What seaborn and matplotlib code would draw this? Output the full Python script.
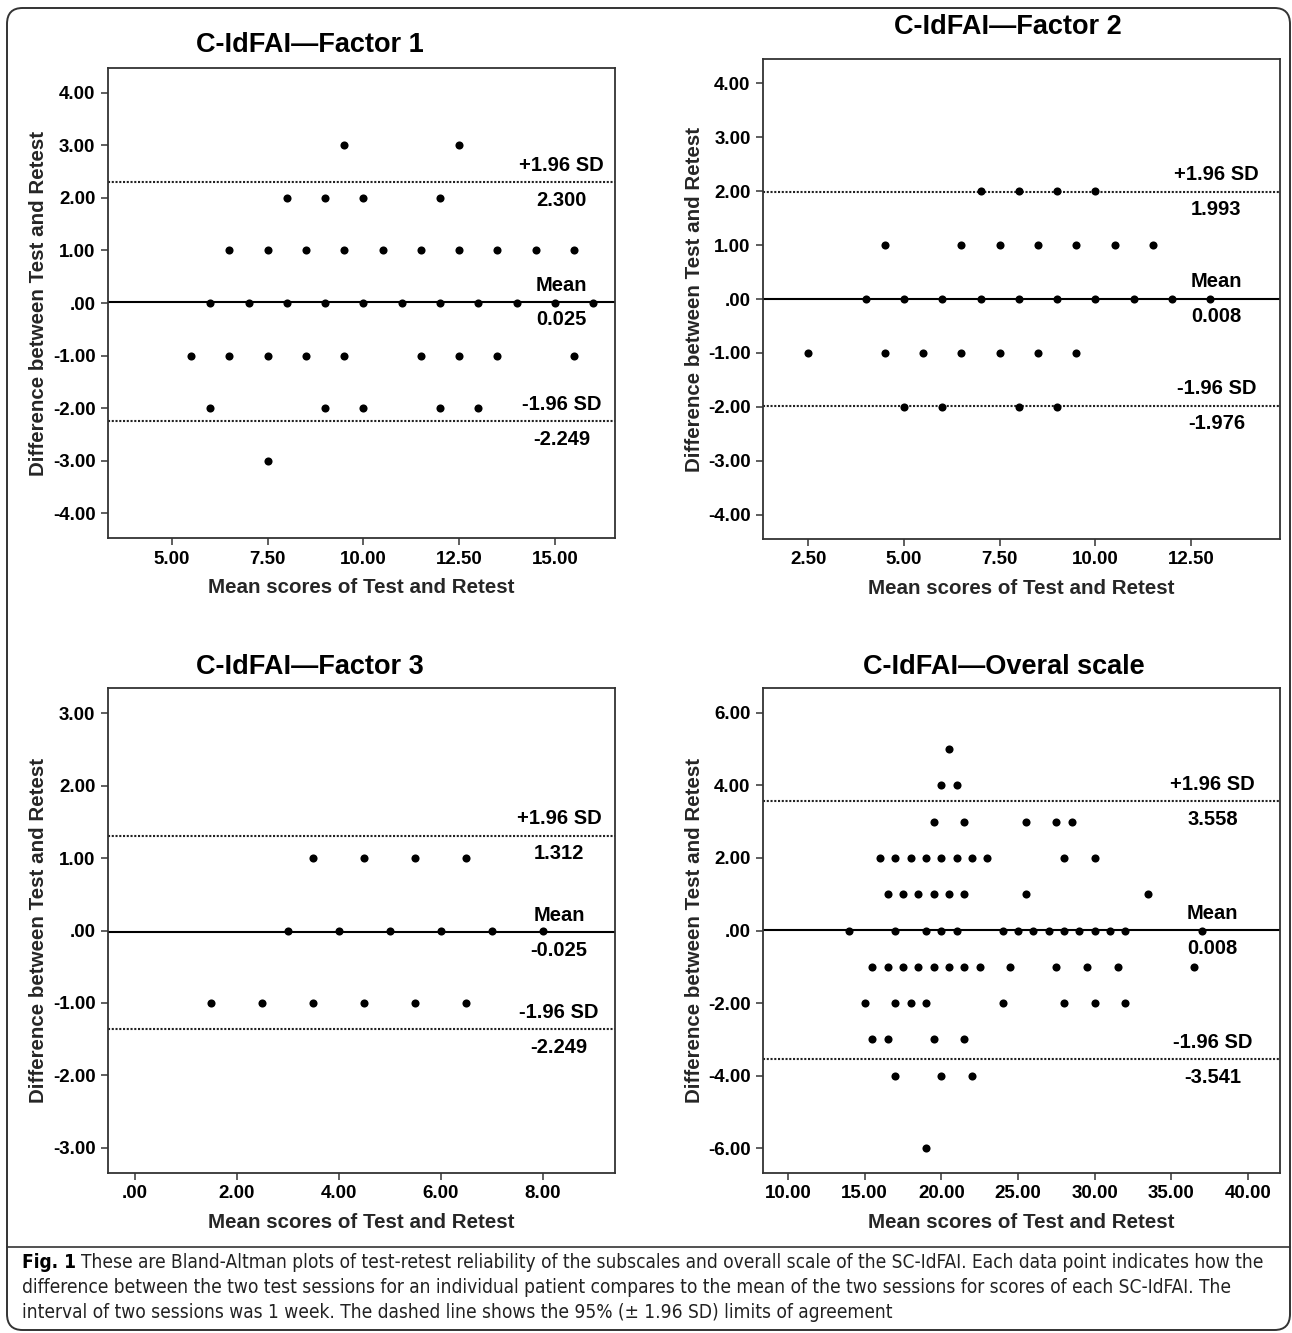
import numpy as np
import pandas as pd
import seaborn as sns
import matplotlib
matplotlib.use('Agg')
import matplotlib.pyplot as plt
from matplotlib import font_manager
from matplotlib.patches import FancyBboxPatch
from matplotlib.lines import Line2D

# ---- data ----
f1_mean = [9.5, 12.5,
           8, 9, 10, 12,
           6.5, 7.5, 8.5, 9.5, 10.5, 11.5, 12.5, 13.5, 14.5, 15.5,
           6, 7, 8, 9, 10, 11, 12, 13, 14, 15, 16,
           5.5, 6.5, 7.5, 8.5, 9.5, 11.5, 12.5, 13.5, 15.5,
           6, 9, 10, 12, 13,
           7.5]
f1_diff = [3, 3,
           2, 2, 2, 2,
           1, 1, 1, 1, 1, 1, 1, 1, 1, 1,
           0, 0, 0, 0, 0, 0, 0, 0, 0, 0, 0,
           -1, -1, -1, -1, -1, -1, -1, -1, -1,
           -2, -2, -2, -2, -2,
           -3]
f1_limits = [2.300, 0.025, -2.249]
f1_labels = ['2.300', '0.025', '-2.249']

f2_mean = [7, 8, 9, 10,
           4.5, 6.5, 7.5, 8.5, 9.5, 10.5, 11.5,
           4, 5, 6, 7, 8, 9, 10, 11, 12, 13,
           2.5, 4.5, 5.5, 6.5, 7.5, 8.5, 9.5,
           5, 6, 8, 9]
f2_diff = [2, 2, 2, 2,
           1, 1, 1, 1, 1, 1, 1,
           0, 0, 0, 0, 0, 0, 0, 0, 0, 0,
           -1, -1, -1, -1, -1, -1, -1,
           -2, -2, -2, -2]
f2_limits = [1.993, 0.008, -1.976]
f2_labels = ['1.993', '0.008', '-1.976']

f3_mean = [3.5, 4.5, 5.5, 6.5,
           3, 4, 5, 6, 7, 8,
           1.5, 2.5, 3.5, 4.5, 5.5, 6.5]
f3_diff = [1, 1, 1, 1,
           0, 0, 0, 0, 0, 0,
           -1, -1, -1, -1, -1, -1]
f3_limits = [1.312, -0.025, -1.362]
f3_labels = ['1.312', '-0.025', '-2.249']

f4_mean = [20.5,
           20, 21,
           19.5, 21.5, 25.5, 27.5, 28.5,
           16, 17, 18, 19, 20, 21, 22, 23, 28, 30,
           16.5, 17.5, 18.5, 19.5, 20.5, 21.5, 25.5, 33.5,
           14, 17, 19, 20, 21, 24, 25, 26, 27, 28, 29, 30, 31, 32, 37,
           15.5, 16.5, 17.5, 18.5, 19.5, 20.5, 21.5, 22.5, 24.5, 27.5, 29.5, 31.5, 36.5,
           15, 17, 18, 19, 24, 28, 30, 32,
           15.5, 16.5, 19.5, 21.5,
           17, 20, 22,
           19]
f4_diff = [5,
           4, 4,
           3, 3, 3, 3, 3,
           2, 2, 2, 2, 2, 2, 2, 2, 2, 2,
           1, 1, 1, 1, 1, 1, 1, 1,
           0, 0, 0, 0, 0, 0, 0, 0, 0, 0, 0, 0, 0, 0, 0,
           -1, -1, -1, -1, -1, -1, -1, -1, -1, -1, -1, -1, -1,
           -2, -2, -2, -2, -2, -2, -2, -2,
           -3, -3, -3, -3,
           -4, -4, -4,
           -6]
f4_limits = [3.558, 0.008, -3.541]
f4_labels = ['3.558', '0.008', '-3.541']

titles = ['C-IdFAI\u2014Factor 1', 'C-IdFAI\u2014Factor 2',
          'C-IdFAI\u2014Factor 3', 'C-IdFAI\u2014Overal scale']
xlabel = 'Mean scores of Test and Retest'
ylabel = 'Difference between Test and Retest'
caption = ['These are Bland-Altman plots of test-retest reliability of the subscales and overall scale of the SC-IdFAI. Each data point indicates how the',
           'difference between the two test sessions for an individual patient compares to the mean of the two sessions for scores of each SC-IdFAI. The',
           'interval of two sessions was 1 week. The dashed line shows the 95% (\u00b1 1.96 SD) limits of agreement']

# ---- layout ----
W, H = 1292, 1333
sns.set_style('ticks')
plt.rcParams['font.family'] = ['Liberation Sans', 'DejaVu Sans']
plt.rcParams['font.weight'] = 'bold'
DARK = '#222222'

fig = plt.figure(figsize=(W / 100, H / 100), dpi=100)


def px_axes(left, top, right, bottom):
    return fig.add_axes([left / W, 1 - bottom / H, (right - left) / W, (bottom - top) / H])


def fmt(v):
    s = f'{v:.2f}'
    return '.00' if s in ('0.00', '-0.00') else s


def draw_panel(ax, mean, diff, limits, labels, xlim, ylim, xticks, yticks, text_x):
    df = pd.DataFrame({'mean': mean, 'diff': diff})
    sns.scatterplot(data=df, x='mean', y='diff', ax=ax, color='black', s=34,
                    linewidth=0, zorder=3)
    up, mid, lo = limits
    ax.axhline(mid, color='black', lw=1.5, zorder=2)
    ax.axhline(up, color=DARK, lw=1.5, ls=(0, (1, 0.8)), zorder=2)
    ax.axhline(lo, color=DARK, lw=1.5, ls=(0, (1, 0.8)), zorder=2)
    for y, txt_above, txt_below in [(up, '+1.96 SD', labels[0]),
                                   (mid, 'Mean', labels[1]),
                                   (lo, '-1.96 SD', labels[2])]:
        for txt, dy in [(txt_above, 12), (txt_below, -13)]:
            ax.annotate(txt, xy=(text_x, y), xycoords=('axes fraction', 'data'),
                        xytext=(0, dy), textcoords='offset points',
                        ha='center', va='center', fontsize=14.5, fontweight='bold',
                        color='black')
    ax.set_xlim(*xlim)
    ax.set_ylim(*ylim)
    ax.set_xticks(xticks)
    ax.set_yticks(yticks)
    ax.set_xticklabels([fmt(v) for v in xticks])
    ax.set_yticklabels([fmt(v) for v in yticks])
    ax.tick_params(direction='out', length=5, width=1.1, color='#333333',
                   labelsize=13.5, labelcolor='black', top=False, right=False, pad=4)
    for sp in ax.spines.values():
        sp.set_color('#333333')
        sp.set_linewidth(1.3)
    ax.set_xlabel(xlabel, fontsize=14.8, fontweight='bold')
    ax.set_ylabel(ylabel, fontsize=14.8, fontweight='bold')
    ax.grid(False)


ax1 = px_axes(108, 68, 615, 538)
ax2 = px_axes(763, 59, 1280, 539)
ax3 = px_axes(108, 688, 615, 1173)
ax4 = px_axes(763, 688, 1280, 1173)

draw_panel(ax1, f1_mean, f1_diff, f1_limits, f1_labels, (3.33, 16.57), (-4.47, 4.47),
           [5, 7.5, 10, 12.5, 15], [-4, -3, -2, -1, 0, 1, 2, 3, 4], 0.895)
draw_panel(ax2, f2_mean, f2_diff, f2_limits, f2_labels, (1.32, 14.82), (-4.45, 4.45),
           [2.5, 5, 7.5, 10, 12.5], [-4, -3, -2, -1, 0, 1, 2, 3, 4], 0.877)
draw_panel(ax3, f3_mean, f3_diff, f3_limits, f3_labels, (-0.52, 9.42), (-3.35, 3.35),
           [0, 2, 4, 6, 8], [-3, -2, -1, 0, 1, 2, 3], 0.89)
draw_panel(ax4, f4_mean, f4_diff, f4_limits, f4_labels, (8.37, 42.1), (-6.68, 6.68),
           [10, 15, 20, 25, 30, 35, 40], [-6, -4, -2, 0, 2, 4, 6], 0.87)

for ax, lx in [(ax1, -0.118), (ax3, -0.118), (ax2, -0.114), (ax4, -0.114)]:
    ax.yaxis.set_label_coords(lx, 0.5)
for ax in [ax1, ax2, ax3, ax4]:
    ax.xaxis.set_label_coords(0.5, -40 / (ax.get_position().height * H))

for (tx, ty), t in zip([(310, 45), (1008, 27), (310, 667), (1004, 667)], titles):
    fig.text(tx / W, 1 - ty / H, t, ha='center', va='center', fontsize=19.5,
             fontweight='bold', color='black')

# ---- frame and caption ----
fig.patches.append(FancyBboxPatch((7 / W, 1 - 1330 / H), 1283 / W, 1322 / H,
                                  boxstyle='round,pad=0,rounding_size=0.012',
                                  transform=fig.transFigure, fill=False,
                                  edgecolor='#333333', lw=1.4))
fig.lines.append(Line2D([7 / W, 1290 / W], [1 - 1247 / H, 1 - 1247 / H],
                        transform=fig.transFigure, color='#333333', lw=1.2))

# caption font: prefer a condensed/narrow face when one is installed
cap_font, cap_stretch = 'Roboto', 'normal'
for f in font_manager.fontManager.ttflist:
    if 'Narrow' in f.name or 'Condensed' in f.name:
        cap_font, cap_stretch = f.name, 'normal'
        break
    if f.stretch in ('condensed', 'semi-condensed') and f.name in ('DejaVu Sans', 'Liberation Sans'):
        cap_font, cap_stretch = f.name, f.stretch
        break

fig.canvas.draw()
renderer = fig.canvas.get_renderer()
fs = 12
bold = fig.text(22 / W, 1 - 1262 / H, 'Fig. 1', ha='left', va='center', fontsize=fs,
                family=[cap_font, 'DejaVu Sans'], fontstretch=cap_stretch,
                fontweight='bold', color='black')
lines = []
for i, ln in enumerate(caption):
    lines.append(fig.text(22 / W, 1 - (1262 + i * 25.5) / H, ln, ha='left', va='center',
                          fontsize=fs, family=[cap_font, 'DejaVu Sans'],
                          fontstretch=cap_stretch, fontweight='normal', color='#222222'))
# fit first line to the reference width
bw = bold.get_window_extent(renderer).width
lw0 = lines[0].get_window_extent(renderer).width
fs2 = fs * (1268 - 22) / (bw + 6 + lw0)
bold.set_fontsize(fs2)
for t in lines:
    t.set_fontsize(fs2)
fig.canvas.draw()
bw = bold.get_window_extent(renderer).width
lines[0].set_x((22 + bw + 5) / W)

fig.savefig('out.png', dpi=100)
